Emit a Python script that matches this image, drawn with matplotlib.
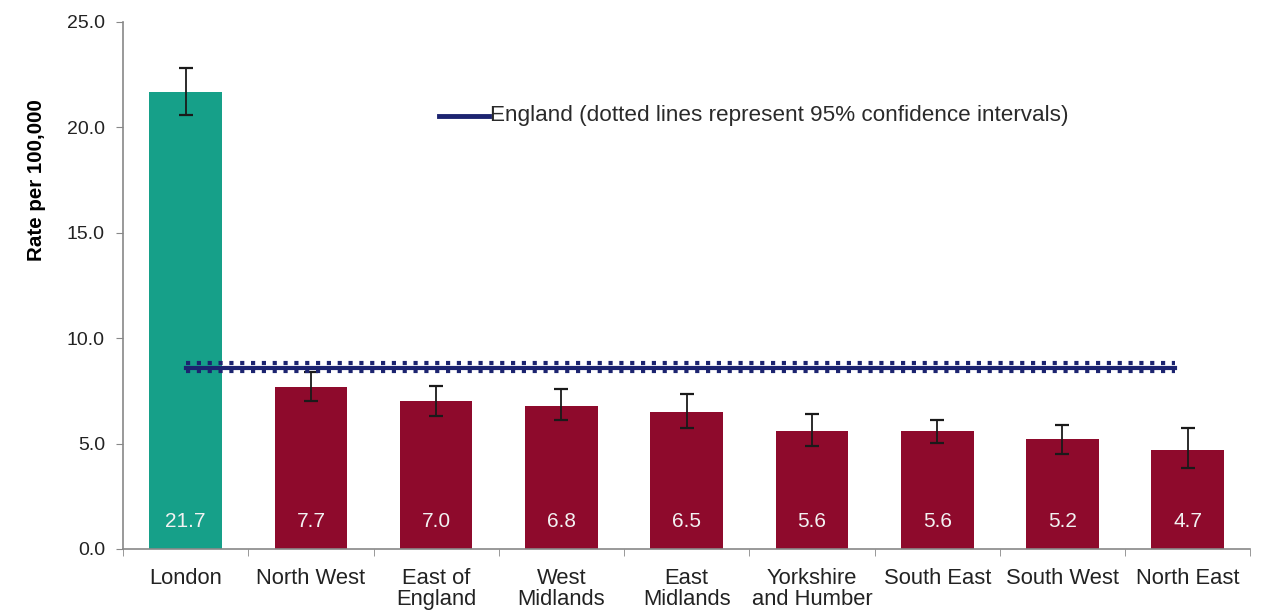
import numpy as np
import matplotlib.pyplot as plt

plt.rcParams['font.family'] = ['Liberation Sans', 'DejaVu Sans']

# data
regiones = ["London", "North West", "East of\nEngland", "West\nMidlands", "East\nMidlands",
            "Yorkshire\nand Humber", "South East", "South West", "North East"]
tasas = [21.7, 7.7, 7.0, 6.8, 6.5, 5.6, 5.6, 5.2, 4.7]
ic_bajo = [20.6, 7.0, 6.3, 6.1, 5.75, 4.9, 5.05, 4.5, 3.85]
ic_alto = [22.8, 8.4, 7.75, 7.6, 7.35, 6.4, 6.1, 5.9, 5.75]
england = 8.6
england_ic = [8.42, 8.8]

verde = '#16a089'
rojo = '#8e0a2c'
azul = '#1c2470'

fig = plt.figure(figsize=(12.63, 6.16), dpi=100)
ax = fig.add_axes([0.0974, 0.1088, 0.8926, 0.8555])

x = np.arange(len(regiones))
colores = [verde] + [rojo] * (len(regiones) - 1)
err = [np.array(tasas) - np.array(ic_bajo), np.array(ic_alto) - np.array(tasas)]
ax.bar(x, tasas, width=0.58, color=colores, zorder=2)
ax.errorbar(x, tasas, yerr=err, fmt='none', ecolor='#1a1a1a', elinewidth=1.3,
            capsize=5, capthick=1.6, zorder=3)

#Etiquetas dentro de las barras
for i, v in enumerate(tasas):
    ax.text(x[i], 1.3, f"{v:.1f}", ha='center', va='center', color='#f2f2f2', fontsize=15, zorder=4)

#Linea de Inglaterra con intervalos
xl = [0, 7.9]
ax.plot(xl, [england, england], color=azul, lw=3, zorder=4)
for c in england_ic:
    ax.plot(xl, [c, c], color=azul, lw=3, ls=(0, (1, 1.6)), zorder=4)

#Leyenda manual
ax.plot([2.02, 2.42], [20.55, 20.55], color=azul, lw=3.5, clip_on=False)
ax.text(2.43, 20.55, "England (dotted lines represent 95% confidence intervals)",
        va='center', ha='left', fontsize=16.2, color='#2a2a2a')

ax.set_xlim(-0.5, len(regiones) - 0.5)
ax.set_ylim(0, 25)
ax.set_yticks(np.arange(0, 26, 5))
ax.set_yticklabels([f"{v:.1f}" for v in np.arange(0, 26, 5)], fontsize=14, color='#222222')
ax.set_xticks(x)
ax.set_xticklabels(regiones, fontsize=15.8, color='#222222', linespacing=1.0)
ax.set_xticks(np.arange(-0.5, len(regiones), 1), minor=True)
ax.tick_params(axis='x', which='major', length=0, pad=14)
ax.tick_params(axis='x', which='minor', length=5, color='#888888')
ax.tick_params(axis='y', length=5, color='#888888', pad=8)
ax.set_ylabel("Rate per 100,000", fontsize=14.8, fontweight='bold')
ax.yaxis.set_label_coords(-0.068, 0.70)

for s in ['top', 'right']:
    ax.spines[s].set_visible(False)
for s in ['left', 'bottom']:
    ax.spines[s].set_color('#888888')
    ax.spines[s].set_linewidth(1.2)

fig.savefig('out.png', dpi=100)
